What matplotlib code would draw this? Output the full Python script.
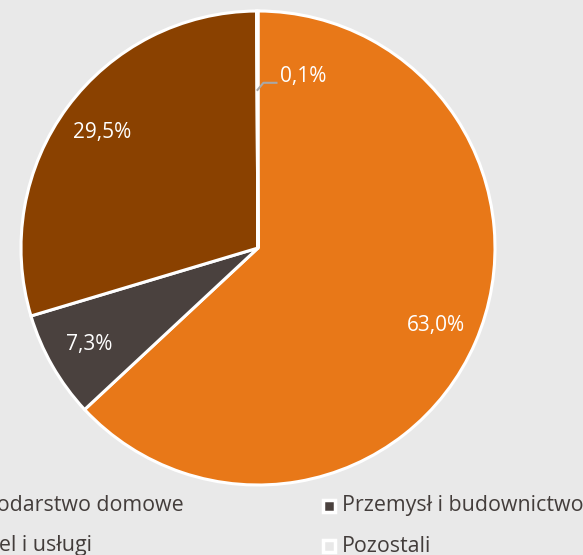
import matplotlib.pyplot as plt
import matplotlib.patches as mpatches
import numpy as np

plt.rcParams['font.family'] = ['Open Sans', 'DejaVu Sans']

categories = ['Gospodarstwo domowe', 'Przemysł i budownictwo', 'Handel i usługi', 'Pozostali']
values = [63.0, 7.3, 29.5, 0.1]
labels = ['63,0%', '7,3%', '29,5%', '0,1%']
colors = ['#E87818', '#4A413E', '#8A4100', '#E8E8E8']

bg = '#E9E9E9'
text_color = '#433D3B'
W, H = 583, 555

fig = plt.figure(figsize=(W / 100, H / 100), dpi=100, facecolor=bg)

# pie centre and radius in pixels
cx, cy, r = 258, 248, 237
ax = fig.add_axes([(cx - r) / W, (H - cy - r) / H, 2 * r / W, 2 * r / H])
ax.set_facecolor(bg)

wedges, _ = ax.pie(values, colors=colors, startangle=90, counterclock=False,
                   wedgeprops=dict(edgecolor='white', linewidth=2.2))
ax.set_xlim(-1, 1)
ax.set_ylim(-1, 1)
ax.axis('off')

# labels inside slices
for w, lab in zip(wedges[:3], labels[:3]):
    ang = np.deg2rad((w.theta1 + w.theta2) / 2)
    ax.text(0.82 * np.cos(ang), 0.82 * np.sin(ang), lab, color='white',
            fontsize=15, ha='center', va='center')

# small slice with leader line
w = wedges[3]
ang = np.deg2rad((w.theta1 + w.theta2) / 2)
px, py = 0.667 * np.cos(ang), 0.667 * np.sin(ang)
ax.plot([px, px + 0.025, px + 0.08], [py, py + 0.03, py + 0.03],
        color='#A8A8A8', lw=1.5)
ax.text(px + 0.093, py + 0.058, labels[3], color='white', fontsize=15,
        ha='left', va='center')

# legend drawn by hand (left column runs off the canvas, as in the original)
col_x = [-55, 342]
row_y = [506, 546]
for i, (cat, col) in enumerate(zip(categories, colors)):
    x = col_x[i % 2]
    y = row_y[i // 2]
    fig.patches.append(mpatches.Rectangle(((x - 19) / W, (H - y - 6) / H), 12 / W, 12 / H,
                                          transform=fig.transFigure, facecolor=col,
                                          edgecolor='white', linewidth=2.5))
    fig.text(x / W, (H - y) / H, cat, color=text_color, fontsize=15.4,
             ha='left', va='center')

fig.savefig('out.png', dpi=100, facecolor=bg)
